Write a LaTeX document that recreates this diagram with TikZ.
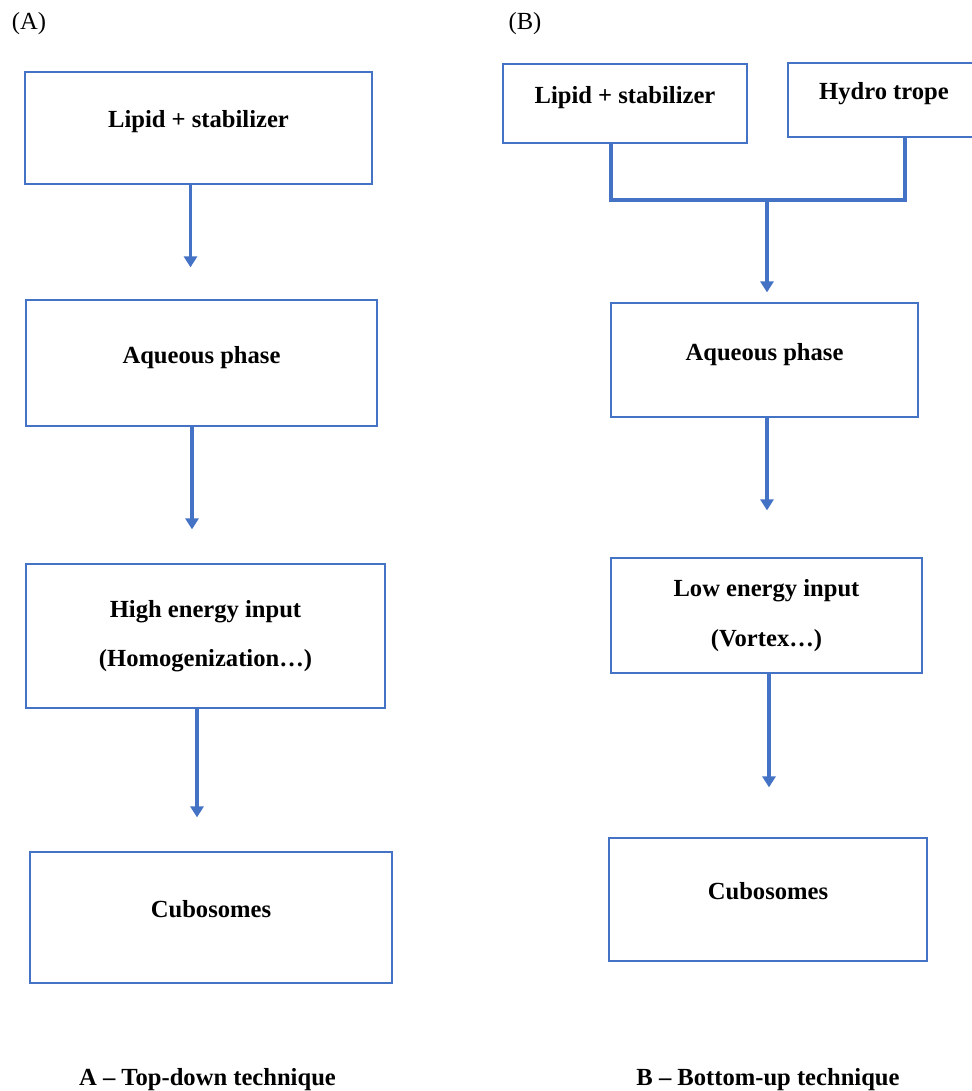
\documentclass[tikz,border=0pt]{standalone}
\usepackage{fontspec}
\setmainfont{Liberation Serif}
\usetikzlibrary{arrows.meta, positioning, calc}
\definecolor{lineblue}{RGB}{68,114,196}
\newlength\pxu
\setlength\pxu{0.02cm}
\tikzset{
  stage/.style={
    rectangle, draw=lineblue, line width=0.7pt, fill=white,
    font=\fontsize{14}{28}\selectfont\bfseries, align=center,
    inner sep=0pt, text height=0.8em, text depth=0.8em},
  stage2/.style={stage, text height=, text depth=},
  farrow/.style={-{Triangle[width=0.26cm, length=0.22cm]}, draw=lineblue, line width=1.8pt},
  fline/.style ={draw=lineblue, line width=1.8pt},   % merging line
  tag/.style   ={font=\fontsize{14}{17}\selectfont, inner sep=0pt},
  capt/.style  ={font=\fontsize{14}{17}\selectfont\bfseries, inner sep=0pt, anchor=base},
}

\begin{document}
\begin{tikzpicture}[x=0.02cm, y=-0.02cm]
\useasboundingbox (0,0) rectangle (971,1091);

% (A) top-down
\node[tag] (ta) at (29,24) {(A)};
\node[stage, minimum width=347\pxu, minimum height=112\pxu] (a1) at (198.5,128) {Lipid + stabilizer};
\node[stage, minimum width=351\pxu, minimum height=126\pxu] (a2) at (201.5,363) {Aqueous phase};
\node[stage2, minimum width=359\pxu, minimum height=144\pxu] (a3) at (205.5,636) {High energy input\\(Homogenization\dots)};
\node[stage, minimum width=362\pxu, minimum height=131\pxu] (a4) at (211,917.5) {Cubosomes};
\node[capt] (ca) at (207.5,1085) {A -- Top-down technique};

\draw[farrow, shorten >=32\pxu] ([xshift=-8\pxu]a1.south) -- ([xshift=-8\pxu]a1.south |- a2.north);
\draw[farrow, shorten >=34\pxu] ([xshift=-9.5\pxu]a2.south) -- ([xshift=-9.5\pxu]a2.south |- a3.north);
\draw[farrow, shorten >=34\pxu] ([xshift=-8.5\pxu]a3.south) -- ([xshift=-8.5\pxu]a3.south |- a4.north);

% (B) bottom-up
\node[tag] (tb) at (525,24) {(B)};
\node[stage, minimum width=244\pxu, minimum height=79\pxu] (b1) at (625,103.5) {Lipid + stabilizer};
\node[stage, minimum width=192\pxu, minimum height=74\pxu] (b2) at (884,100) {Hydro trope};
\node[stage, minimum width=307\pxu, minimum height=114\pxu] (b3) at (764.5,360) {Aqueous phase};
\node[stage2, minimum width=311\pxu, minimum height=115\pxu] (b4) at (766.5,615.5) {Low energy input\\(Vortex\dots)};
\node[stage, minimum width=318\pxu, minimum height=123\pxu] (b5) at (768,899.5) {Cubosomes};
\node[capt] (cb) at (768,1085) {B -- Bottom-up technique};

\coordinate (jn) at (767,200);
\draw[fline] ([xshift=-14\pxu]b1.south) |- ([xshift=21\pxu]b2.south |- jn) -- ([xshift=21\pxu]b2.south);
\draw[farrow, shorten >=10\pxu] (jn) -- (jn |- b3.north);
\draw[farrow, shorten >=47\pxu] ([xshift=2.5\pxu]b3.south) -- ([xshift=2.5\pxu]b3.south |- b4.north);
\draw[farrow, shorten >=50\pxu] ([xshift=2.5\pxu]b4.south) -- ([xshift=2.5\pxu]b4.south |- b5.north);

\end{tikzpicture}
\end{document}
